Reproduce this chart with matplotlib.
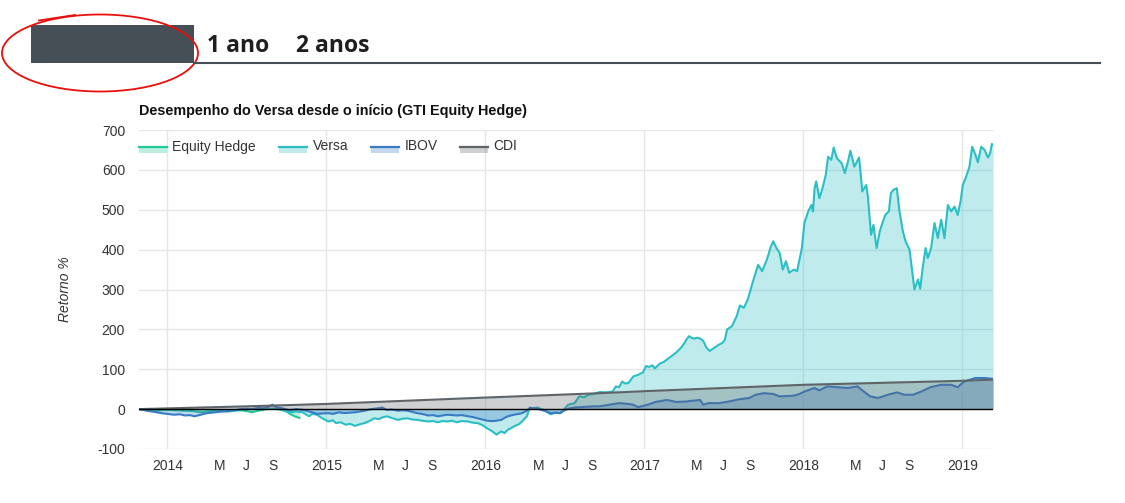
import matplotlib
matplotlib.use("Agg")
import matplotlib.pyplot as plt
from matplotlib.patches import Rectangle, Ellipse
from matplotlib.lines import Line2D
from datetime import date

plt.rcParams['font.family'] = ['Liberation Sans', 'DejaVu Sans']
plt.rcParams['axes.unicode_minus'] = False

# time axis in decimal years, values are cumulative return in %
eh_t = [2013.82, 2013.87, 2013.92, 2013.96, 2014.00, 2014.05, 2014.11, 2014.16,
        2014.21, 2014.25, 2014.30, 2014.34, 2014.38, 2014.42, 2014.46, 2014.50,
        2014.53, 2014.57, 2014.62, 2014.66, 2014.69, 2014.72, 2014.75, 2014.77,
        2014.80, 2014.83]
eh_v = [0, -3, -4, -3, -2, -3, -4, -5, -8, -6, -4, -5, -6, -4, -3, -5,
        -8, -4, 0, 1, 0, -2, -6, -12, -18, -22]

versa_t = [2014.72, 2014.75, 2014.77, 2014.81, 2014.85, 2014.89, 2014.91, 2014.94,
           2014.97, 2015.01, 2015.04, 2015.06, 2015.09, 2015.12, 2015.15, 2015.18,
           2015.21, 2015.24, 2015.27, 2015.30, 2015.33, 2015.35, 2015.38, 2015.41,
           2015.45, 2015.48, 2015.51, 2015.54, 2015.57, 2015.60, 2015.64, 2015.67,
           2015.70, 2015.73, 2015.76, 2015.79, 2015.82, 2015.85, 2015.89, 2015.92,
           2015.95, 2015.98, 2016.01, 2016.04, 2016.07, 2016.09, 2016.10, 2016.12,
           2016.14, 2016.16, 2016.18, 2016.21, 2016.23, 2016.26, 2016.28, 2016.30,
           2016.33, 2016.35, 2016.37, 2016.39, 2016.41, 2016.44, 2016.47, 2016.50,
           2016.52, 2016.56, 2016.59, 2016.62, 2016.65, 2016.68, 2016.72, 2016.76,
           2016.80, 2016.82, 2016.84, 2016.86, 2016.88, 2016.90, 2016.93, 2016.96,
           2016.99, 2017.01, 2017.03, 2017.05, 2017.065, 2017.08, 2017.10, 2017.12,
           2017.14, 2017.17, 2017.20, 2017.23, 2017.25, 2017.265, 2017.28, 2017.30,
           2017.315, 2017.33, 2017.35, 2017.37, 2017.39, 2017.41, 2017.44, 2017.47,
           2017.49, 2017.505, 2017.52, 2017.55, 2017.58, 2017.60, 2017.625, 2017.65,
           2017.68, 2017.715, 2017.74, 2017.77, 2017.795, 2017.81, 2017.83, 2017.85,
           2017.87, 2017.89, 2017.91, 2017.94, 2017.96, 2017.975, 2017.99, 2018.006,
           2018.03, 2018.05, 2018.06, 2018.07, 2018.08, 2018.10, 2018.12, 2018.14,
           2018.155, 2018.175, 2018.19, 2018.21, 2018.24, 2018.26, 2018.28, 2018.295,
           2018.32, 2018.35, 2018.37, 2018.395, 2018.405, 2018.425, 2018.44, 2018.46,
           2018.48, 2018.50, 2018.515, 2018.537, 2018.55, 2018.566, 2018.587, 2018.604,
           2018.625, 2018.642, 2018.667, 2018.684, 2018.698, 2018.72, 2018.734, 2018.75,
           2018.768, 2018.782, 2018.803, 2018.824, 2018.845, 2018.866, 2018.887, 2018.908,
           2018.929, 2018.95, 2018.97, 2018.988, 2019.002, 2019.023, 2019.044, 2019.061,
           2019.082, 2019.097, 2019.118, 2019.139, 2019.16, 2019.174, 2019.185, 2019.192]
versa_v = [-2, -6, -8, -6, -8, -18, -12, -14,
           -22, -31, -28, -35, -33, -39, -37, -42,
           -38, -35, -30, -23, -25, -21, -18, -22,
           -27, -24, -23, -26, -27, -29, -31, -30,
           -33, -30, -31, -29, -33, -30, -31, -34,
           -35, -40, -48, -55, -64, -58, -56, -60,
           -52, -48, -43, -38, -31, -18, 4, 2,
           4, 0, -2, -8, -13, -9, -10, 2,
           11, 15, 32, 30, 36, 38, 43, 42,
           44, 57, 55, 69, 64, 66, 82, 86,
           92, 108, 106, 110, 102, 108, 115, 118,
           124, 133, 142, 154, 165, 175, 183, 178,
           177, 179, 177, 171, 154, 146, 154, 162,
           166, 173, 200, 208, 233, 260, 254, 275,
           317, 362, 346, 375, 408, 421, 404, 392,
           350, 371, 342, 350, 346, 375, 404, 467,
           496, 512, 496, 554, 571, 529, 554, 587,
           633, 625, 656, 629, 617, 592, 621, 648,
           608, 631, 546, 562, 533, 437, 462, 404,
           446, 471, 487, 496, 542, 550, 554, 496,
           446, 421, 400, 346, 300, 325, 302, 354,
           404, 379, 404, 467, 429, 475, 429, 512,
           496, 508, 487, 521, 562, 583, 608, 658,
           637, 619, 658, 650, 631, 642, 665, 663]

ibov_t = [2013.82, 2013.85, 2013.87, 2013.92, 2013.96, 2014.00, 2014.04, 2014.08,
          2014.11, 2014.14, 2014.17, 2014.21, 2014.25, 2014.30, 2014.34, 2014.38,
          2014.42, 2014.46, 2014.50, 2014.53, 2014.57, 2014.60, 2014.63, 2014.66,
          2014.69, 2014.72, 2014.75, 2014.77, 2014.81, 2014.85, 2014.89, 2014.92,
          2014.94, 2014.97, 2015.01, 2015.04, 2015.08, 2015.11, 2015.15, 2015.18,
          2015.21, 2015.24, 2015.27, 2015.30, 2015.33, 2015.35, 2015.38, 2015.41,
          2015.45, 2015.48, 2015.51, 2015.54, 2015.57, 2015.60, 2015.64, 2015.67,
          2015.70, 2015.73, 2015.76, 2015.79, 2015.82, 2015.85, 2015.89, 2015.92,
          2015.95, 2015.98, 2016.01, 2016.04, 2016.07, 2016.10, 2016.12, 2016.14,
          2016.18, 2016.21, 2016.23, 2016.26, 2016.28, 2016.31, 2016.33, 2016.35,
          2016.37, 2016.39, 2016.41, 2016.44, 2016.47, 2016.50, 2016.53, 2016.56,
          2016.60, 2016.64, 2016.675, 2016.717, 2016.78, 2016.84, 2016.90, 2016.93,
          2016.96, 2016.99, 2017.02, 2017.07, 2017.10, 2017.14, 2017.20, 2017.26,
          2017.30, 2017.35, 2017.37, 2017.40, 2017.47, 2017.53, 2017.60, 2017.66,
          2017.70, 2017.75, 2017.81, 2017.85, 2017.91, 2017.94, 2017.975, 2018.005,
          2018.07, 2018.10, 2018.15, 2018.21, 2018.28, 2018.34, 2018.38, 2018.42,
          2018.47, 2018.53, 2018.59, 2018.635, 2018.69, 2018.74, 2018.80, 2018.865,
          2018.93, 2018.97, 2019.01, 2019.08, 2019.14, 2019.192]
ibov_v = [0, -2, -4, -7, -10, -12, -14, -13,
          -16, -15, -18, -14, -10, -8, -6, -5,
          -3, 0, 1, 0, 3, 2, 5, 11,
          4, 2, -1, -3, 0, -2, -6, -9,
          -12, -11, -10, -12, -8, -10, -9, -8,
          -6, -4, -1, 1, 2, 4, -2, -1,
          -4, -3, -4, -7, -10, -12, -16, -15,
          -18, -16, -14, -15, -16, -15, -18, -20,
          -23, -26, -29, -30, -29, -27, -22, -18,
          -14, -12, -10, -4, 3, 2, 1, -2,
          -4, -7, -10, -9, -10, -2, 2, 4,
          5, 6, 7, 7, 11, 15, 13, 11,
          5, 8, 11, 18, 20, 23, 18, 19,
          21, 23, 11, 15, 15, 19, 25, 28,
          36, 40, 38, 32, 33, 34, 38, 44,
          53, 47, 57, 55, 53, 57, 44, 32,
          28, 36, 42, 36, 36, 44, 55, 61,
          61, 55, 69, 78, 78, 76]

cdi_t = [2013.82, 2014.5, 2015.0, 2016.0, 2016.72, 2017.0, 2018.0, 2019.0, 2019.192]
cdi_v = [0, 7, 13, 29, 40, 45, 61, 71, 74]

names = ['Equity Hedge', 'Versa', 'IBOV', 'CDI']
colors = ['#20c997', '#2bbfc5', '#3a7cc4', '#5f6468']
series_t = [eh_t, versa_t, ibov_t, cdi_t]
series_v = [eh_v, versa_v, ibov_v, cdi_v]

W, H = 1125, 503


def fx(px):
    return px / W


def fy(py):
    return 1 - py / H


def dec_year(y, m):
    return y + (date(y, m, 1) - date(y, 1, 1)).days / 365.0


fig = plt.figure(figsize=(W / 100, H / 100), dpi=100)
ax = fig.add_axes([fx(139), fy(449), (993 - 139) / W, (449 - 130) / H])

for i, (t, v, c) in enumerate(zip(series_t, series_v, colors)):
    ax.fill_between(t, v, 0, color=c, alpha=0.3, lw=0, zorder=2 + i)
    ax.plot(t, v, color=c, lw=1.5, zorder=2 + i)

ax.axhline(0, color='black', lw=1, zorder=10)

ax.set_xlim(2013.821, 2019.192)
ax.set_ylim(-100, 700)
ax.set_yticks(range(-100, 701, 100))

# year ticks carry the grid, M / J / S are label-only
years = [2014, 2015, 2016, 2017, 2018, 2019]
ax.set_xticks([dec_year(y, 1) for y in years])
ax.set_xticklabels([str(y) for y in years])
minor_pos, minor_lab = [], []
for y in years[:-1]:
    for m, lab in [(5, 'M'), (7, 'J'), (9, 'S')]:
        minor_pos.append(dec_year(y, m))
        minor_lab.append(lab)
ax.set_xticks(minor_pos, minor=True)
ax.set_xticklabels(minor_lab, minor=True)

ax.grid(True, which='major', color='#e6e6e6', lw=1)
ax.set_axisbelow(True)
for s in ax.spines.values():
    s.set_visible(False)
ax.tick_params(axis='both', which='both', length=0, labelsize=10, colors='#333333')
ax.tick_params(axis='x', which='both', pad=7.5)
ax.tick_params(axis='y', pad=10)

ax.set_ylabel('Retorno %', style='italic', fontsize=10, color='#333333')
ax.yaxis.set_label_coords(-0.078, 0.5)

fig.text(fx(139), fy(115), 'Desempenho do Versa desde o início (GTI Equity Hedge)',
         fontsize=10.4, fontweight='bold', color='#111111', va='baseline')

# legend drawn by hand: line on top of a light box
legend_x = [139, 279, 371, 460]
for name, c, x0 in zip(names, colors, legend_x):
    fig.add_artist(Rectangle((fx(x0), fy(152.5)), 28 / W, 6 / H,
                             transform=fig.transFigure, color=c, alpha=0.3, lw=0))
    fig.add_artist(Line2D([fx(x0), fx(x0 + 28)], [fy(146.5), fy(146.5)],
                          transform=fig.transFigure, color=c, lw=1.6))
    fig.text(fx(x0 + 33.5), fy(146.5), name, fontsize=10, color='#333333', va='center')

# header tabs
fig.add_artist(Rectangle((fx(31), fy(62.5)), (194 - 31) / W, 37.5 / H,
                         transform=fig.transFigure, color='#464f55', lw=0))
fig.add_artist(Line2D([fx(194), fx(1100)], [fy(62.5), fy(62.5)],
                      transform=fig.transFigure, color='#464f55', lw=1.5))
fig.text(fx(207), fy(51.7), '1 ano', fontfamily='Open Sans', fontweight='bold',
         fontsize=16.5, color='#1e1e1e', va='baseline')
fig.text(fx(296), fy(51.7), '2 anos', fontfamily='Open Sans', fontweight='bold',
         fontsize=16.5, color='#1e1e1e', va='baseline')

# red hand-drawn circle around the hidden tab
fig.add_artist(Ellipse((fx(100), fy(53)), 196 / W, 77 / H, transform=fig.transFigure,
                       fill=False, ec='#e8100c', lw=1.3))
fig.add_artist(Line2D([fx(39), fx(75)], [fy(20.5), fy(15)],
                      transform=fig.transFigure, color='#e8100c', lw=1.3))

fig.savefig('out.png', dpi=100)
